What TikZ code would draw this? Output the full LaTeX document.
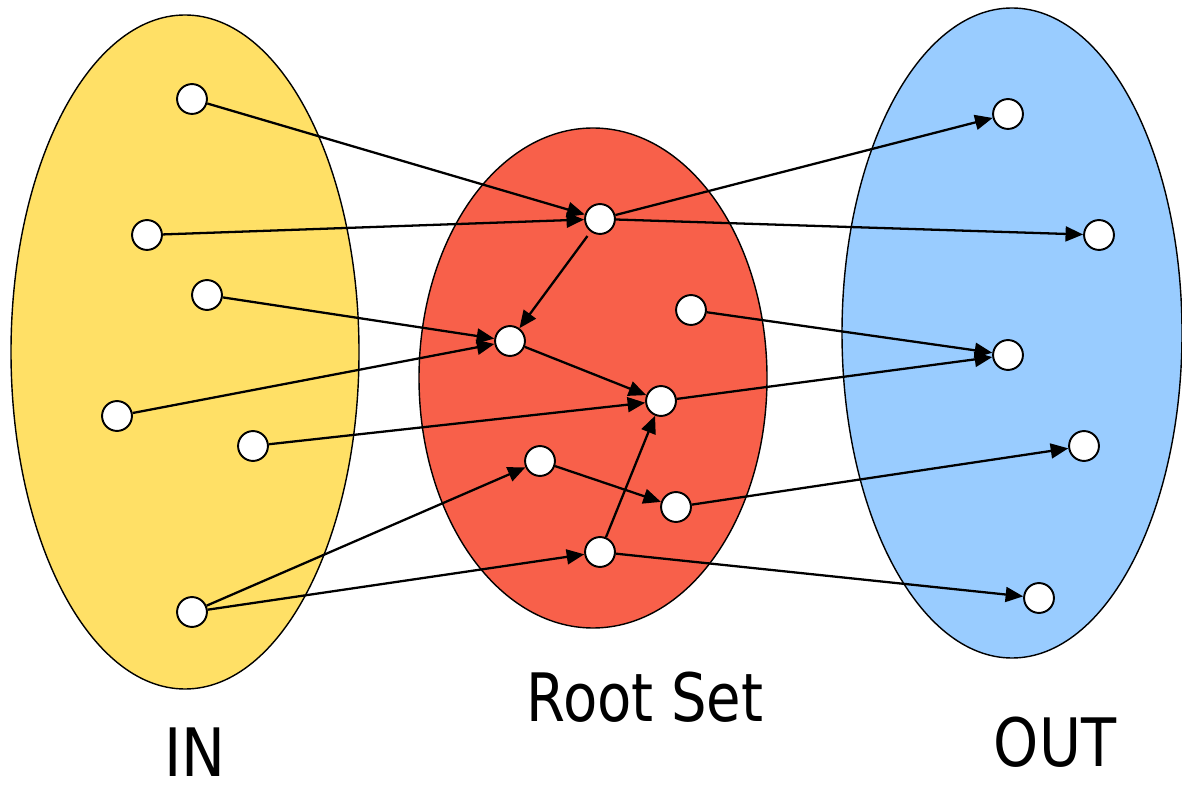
\documentclass[tikz,border=0pt]{standalone}
\usepackage{fontspec}
\setmainfont{DejaVu Sans}
\usetikzlibrary{arrows.meta}
\definecolor{inyellow}{RGB}{255,224,102}
\definecolor{rootred}{RGB}{248,96,74}
\definecolor{outblue}{RGB}{153,204,255}
\begin{document}
\begin{tikzpicture}[x=0.02cm,y=-0.02cm,
  setell/.style={draw=black,line width=0.8pt},
  pg/.style={circle,draw=black,fill=white,line width=1.1pt,inner sep=0pt,minimum size=17pt},
  lnk/.style={line width=1.3pt,-{Triangle[length=10pt,width=8.5pt]}},
  lbl/.style={font=\fontsize{38}{40}\selectfont,inner sep=0pt}]
\useasboundingbox (0,0) rectangle (1182,786);
\fill[white] (0,0) rectangle (1182,786);
\draw[setell,fill=inyellow] (185,352) ellipse [x radius=174, y radius=337];
\draw[setell,fill=rootred] (593,378) ellipse [x radius=174, y radius=250];
\draw[setell,fill=outblue] (1012,333) ellipse [x radius=170, y radius=325];
% IN nodes
\node[pg] (i1) at (192,99) {};
\node[pg] (i2) at (147,235) {};
\node[pg] (i3) at (207,295) {};
\node[pg] (i4) at (117,416) {};
\node[pg] (i5) at (253,446) {};
\node[pg] (i6) at (192,612) {};
% Root nodes
\node[pg] (r1) at (600,219) {};
\node[pg] (r2) at (510,341) {};
\node[pg] (r3) at (691,310) {};
\node[pg] (r4) at (661,401) {};
\node[pg] (r5) at (540,461) {};
\node[pg] (r6) at (676,507) {};
\node[pg] (r7) at (600,552) {};
% OUT nodes
\node[pg] (o1) at (1008,114) {};
\node[pg] (o2) at (1099,235) {};
\node[pg] (o3) at (1008,355) {};
\node[pg] (o4) at (1084,446) {};
\node[pg] (o5) at (1039,598) {};
% edges
\draw[lnk] (i1) -- (r1);
\draw[lnk] (i2) -- (r1);
\draw[lnk] (i3) -- (r2);
\draw[lnk] (i4) -- (r2);
\draw[lnk] (i5) -- (r4);
\draw[lnk] (i6) -- (r5);
\draw[lnk] (i6) -- (r7);
\draw[lnk] (r1) -- (o1);
\draw[lnk] (r1) -- (o2);
\draw[lnk,shorten <=3pt] (r1) -- (r2);
\draw[lnk] (r2) -- (r4);
\draw[lnk] (r3) -- (o3);
\draw[lnk] (r4) -- (o3);
\draw[lnk] (r5) -- (r6);
\draw[lnk] (r6) -- (o4);
\draw[lnk] (r7) -- (r4);
\draw[lnk] (r7) -- (o5);
% labels
\node[lbl] (lin) at (195,752) {\scalebox{0.88}[1]{IN}};
\node[lbl] (lroot) at (645,697) {\scalebox{0.84}[1]{Root Set}};
\node[lbl] (lout) at (1055,742) {\scalebox{0.86}[1]{OUT}};
\end{tikzpicture}
\end{document}
